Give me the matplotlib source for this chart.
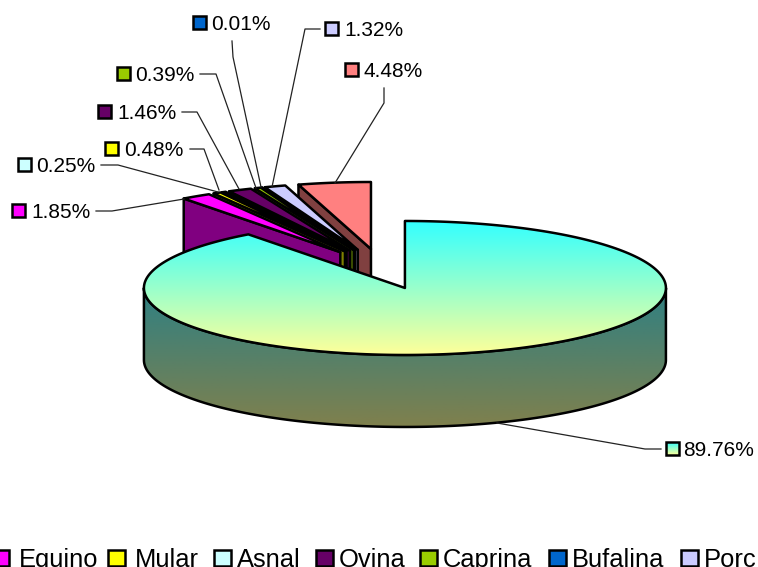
import numpy as np
import matplotlib
matplotlib.use('Agg')
import matplotlib.pyplot as plt
from matplotlib.patches import Polygon, Rectangle
from matplotlib.colors import to_rgb

plt.rcParams['font.family'] = ['Liberation Sans', 'DejaVu Sans']

# slices, clockwise from 12 o'clock
shares = [89.76, 1.85, 0.48, 0.25, 1.46, 0.39, 0.01, 1.32, 4.48]
top_colors = ['#33ffff', '#ff00ff', '#ffff00', '#ccffff', '#660066', '#99cc00', '#0066cc', '#ccccff', '#ff8080']
wall_colors = ['#338080', '#800080', '#808000', '#668080', '#330033', '#4d6600', '#003366', '#666680', '#804040']
legend_names = ['Equino', 'Mular', 'Asnal', 'Ovina', 'Caprina', 'Bufalina', 'Porc']

# layout, in pixels
CX, CY = 381.4, 268.9
RX, RY = 261, 67
EX, EY = 74.4, 20.1
DEPTH = 72
LW = 1.8

# swatch left, swatch top, text left for every slice label
label_pos = [(666, 442, 683.5), (12, 204, 31.5), (105, 142, 124.5), (18, 158, 36.5), (98, 105, 117.5),
             (117, 67, 135.5), (193, 16, 211.5), (325, 22, 344), (345, 63, 363.5)]
leaders = [
    [(661, 449), (645, 449), (497, 423)],
    [(96, 211), (112, 211), (184, 199)],
    [(190, 149), (204, 149), (219, 190)],
    [(101, 165), (118, 165), (218, 192)],
    [(182, 112), (197, 112), (239, 189)],
    [(200, 74), (216, 74), (256, 188)],
    [(232, 41), (233, 57), (261, 187)],
    [(320, 29), (305, 29), (272, 187)],
    [(384, 88), (384, 103), (335, 183)],
]
legend_swatch_x = [-8, 108, 214, 316, 420, 549, 681]
legend_text_x = [19, 135, 237, 339, 443, 572, 704]

fig = plt.figure(figsize=(7.58, 5.67), dpi=100)
ax = fig.add_axes([0, 0, 1, 1])
ax.axis('off')


def gradient(verts, c1, c2, y0, y1, z):
    # vertical colour ramp clipped to a polygon
    a = np.array(to_rgb(c1))
    b = np.array(to_rgb(c2))
    t = np.linspace(0, 1, 256)[:, None]
    img = (a + (b - a) * t)[:, None, :]
    xs = [v[0] for v in verts]
    im = ax.imshow(img, extent=(min(xs), max(xs), y1, y0), aspect='auto', zorder=z)
    clip = Polygon(verts, closed=True, transform=ax.transData, fc='none', ec='none')
    ax.add_patch(clip)
    im.set_clip_path(clip)


def arc(tip, t0, t1):
    t = np.radians(np.linspace(t0, t1, max(int(abs(t1 - t0) * 2), 2)))
    return np.column_stack([tip[0] + RX * np.sin(t), tip[1] - RY * np.cos(t)])


edges = np.concatenate([[0], np.cumsum(shares)]) * 3.6
z = 1
# back slices first: the last share sits furthest back
for i in range(len(shares) - 1, 0, -1):
    t0, t1 = edges[i], edges[i + 1]
    mid = np.radians((t0 + t1) / 2)
    tip = (CX + EX * np.sin(mid), CY - EY * np.cos(mid))
    a = arc(tip, t0, t1)
    wall = [tip, a[0], (a[0][0], a[0][1] + DEPTH), (tip[0], tip[1] + DEPTH)]
    ax.add_patch(Polygon(wall, closed=True, fc=wall_colors[i], ec='black', lw=LW, joinstyle='round', zorder=z))
    z += 1
    ax.add_patch(Polygon(np.vstack([[tip], a]), closed=True, fc=top_colors[i], ec='black', lw=LW, joinstyle='round', zorder=z))
    z += 1

# big slice with its ramps
mid = np.radians((edges[0] + edges[1]) / 2)
tip = (CX + EX * np.sin(mid), CY - EY * np.cos(mid))
front = arc(tip, 90, 270)
wall = np.vstack([front, front[::-1] + [0, DEPTH]])
gradient(wall, '#338080', '#80804d', tip[1] + 8, tip[1] + RY + DEPTH, z)
z += 1
ax.add_patch(Polygon(wall, closed=True, fc='none', ec='black', lw=LW, joinstyle='round', zorder=z))
z += 1
face = np.vstack([[tip], arc(tip, edges[0], edges[1])])
gradient(face, '#33ffff', '#ffff99', tip[1] - RY, tip[1] + RY, z)
z += 1
ax.add_patch(Polygon(face, closed=True, fc='none', ec='black', lw=LW, joinstyle='round', zorder=z))
z += 1

# data labels
for i in range(len(shares)):
    pts = np.array(leaders[i])
    ax.plot(pts[:, 0], pts[:, 1], color='#222222', lw=0.9, zorder=z)
    sx, sy, tx = label_pos[i]
    if i == 0:
        box = [(sx, sy), (sx + 13, sy), (sx + 13, sy + 13), (sx, sy + 13)]
        gradient(box, '#33ffff', '#ffff99', sy, sy + 13, z + 1)
        ax.add_patch(Polygon(box, closed=True, fc='none', ec='black', lw=LW, zorder=z + 2))
    else:
        ax.add_patch(Rectangle((sx, sy), 13, 13, fc=top_colors[i], ec='black', lw=LW, zorder=z + 2))
    ax.text(tx, sy + 14, f'{shares[i]:.2f}%', fontsize=15, ha='left', va='baseline', color='black', zorder=z + 3)

# legend runs off the bottom and the sides of the picture
for i in range(len(legend_names)):
    ax.add_patch(Rectangle((legend_swatch_x[i], 550), 17, 16, fc=top_colors[i + 1], ec='black', lw=LW, zorder=z + 2))
    ax.text(legend_text_x[i], 567, legend_names[i], fontsize=18.4, ha='left', va='baseline', color='black', zorder=z + 3)

ax.set_xlim(0, 758)
ax.set_ylim(567, 0)
fig.savefig('out.png', dpi=100)
